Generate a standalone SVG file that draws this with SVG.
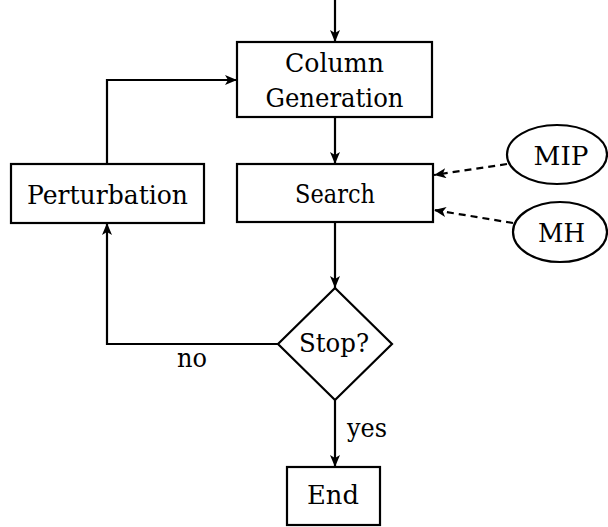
<svg xmlns="http://www.w3.org/2000/svg" width="608" height="527" viewBox="0 0 608 527">
<style>
.box{fill:#fff;stroke:#000;stroke-width:2.2}
.t{font-family:'DejaVu Serif','Liberation Serif',serif;font-size:26px;fill:#000;text-anchor:middle}
.c{fill:none;stroke:#000;stroke-width:2.2}
.d{stroke-dasharray:7 5}
</style>
<defs>
<marker id="ah" viewBox="0 0 12 10" refX="12" refY="5" markerWidth="12" markerHeight="10" markerUnits="userSpaceOnUse" orient="auto">
<path d="M0,0 L12,5 L0,10 L3,5 Z" fill="#000"/>
</marker>
</defs>
<g id="connectors">
<line class="c" x1="335" y1="0" x2="335" y2="42" marker-end="url(#ah)"/>
<line class="c" x1="335" y1="117" x2="335" y2="164" marker-end="url(#ah)"/>
<line class="c" x1="335" y1="222" x2="335" y2="288" marker-end="url(#ah)"/>
<line class="c" x1="335" y1="400" x2="335" y2="467" marker-end="url(#ah)"/>
<polyline class="c" points="278,344 107,344 107,223" marker-end="url(#ah)"/>
<polyline class="c" points="107,164 107,80 237,80" marker-end="url(#ah)"/>
<line class="c d" x1="507" y1="164" x2="434" y2="175" marker-end="url(#ah)"/>
<line class="c d" x1="513" y1="223" x2="434" y2="210" marker-end="url(#ah)"/>
<text class="t" x="192" y="367" textLength="30" lengthAdjust="spacingAndGlyphs">no</text>
<text class="t" x="367" y="437" textLength="40" lengthAdjust="spacingAndGlyphs">yes</text>
</g>
<g id="colgen">
<rect class="box" x="237" y="42" width="195" height="75"/>
<text class="t" x="334.5" y="72" textLength="99" lengthAdjust="spacingAndGlyphs">Column</text>
<text class="t" x="334.5" y="107" textLength="138" lengthAdjust="spacingAndGlyphs">Generation</text>
</g>
<g id="perturbation">
<rect class="box" x="11" y="164" width="193" height="59"/>
<text class="t" x="107.5" y="204" textLength="161" lengthAdjust="spacingAndGlyphs">Perturbation</text>
</g>
<g id="search">
<rect class="box" x="237" y="164" width="196" height="58"/>
<text class="t" x="335" y="203" textLength="80" lengthAdjust="spacingAndGlyphs">Search</text>
</g>
<g id="mip">
<ellipse class="box" cx="557" cy="154.5" rx="50" ry="29.5"/>
<text class="t" x="561" y="165" textLength="55" lengthAdjust="spacingAndGlyphs">MIP</text>
</g>
<g id="mh">
<ellipse class="box" cx="560" cy="232" rx="47" ry="30"/>
<text class="t" x="561.5" y="242" textLength="47" lengthAdjust="spacingAndGlyphs">MH</text>
</g>
<g id="stop">
<polygon class="box" points="335,288 392,344 335,400 278,344"/>
<text class="t" x="334" y="352" textLength="70" lengthAdjust="spacingAndGlyphs">Stop?</text>
</g>
<g id="end">
<rect class="box" x="287" y="467" width="93" height="58"/>
<text class="t" x="333" y="504" textLength="52" lengthAdjust="spacingAndGlyphs">End</text>
</g>
</svg>
